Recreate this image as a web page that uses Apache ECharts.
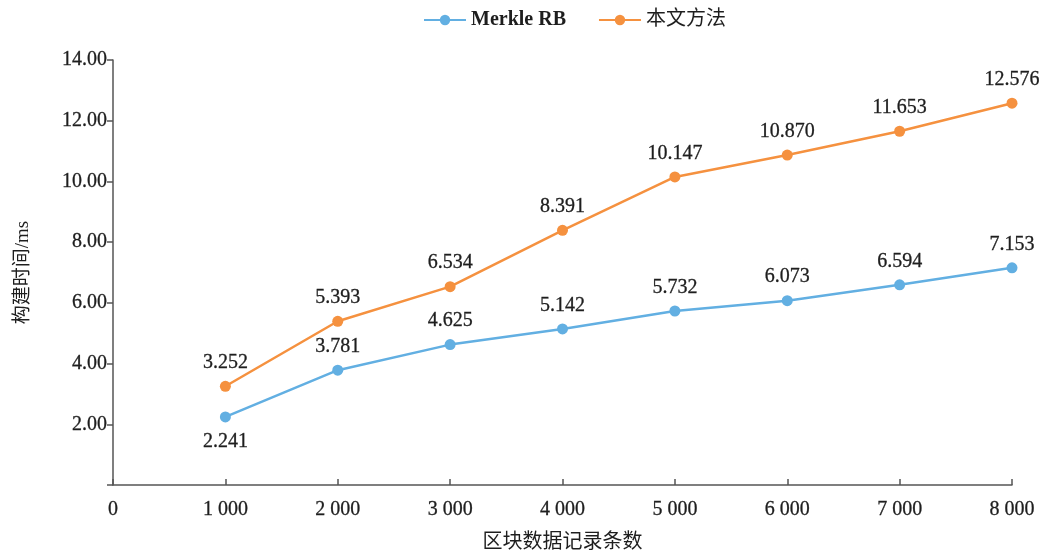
<!DOCTYPE html>
<html>
<head>
<meta charset="utf-8">
<script src="https://cdn.jsdelivr.net/npm/echarts@6/dist/echarts.min.js"></script>
<style>
  html, body { margin: 0; padding: 0; background: #fff; }
  #chart { width: 1039px; height: 558px; }
</style>
</head>
<body>
<div id="chart"></div>
<script>
// Record counts on the x axis
const recordCounts = [1000, 2000, 3000, 4000, 5000, 6000, 7000, 8000];
// Build time (ms) per method
const merkleRB = [2.241, 3.781, 4.625, 5.142, 5.732, 6.073, 6.594, 7.153];
const ourMethod = [3.252, 5.393, 6.534, 8.391, 10.147, 10.870, 11.653, 12.576];
const seriesNames = ['Merkle RB', '本文方法'];

const serif = '"Liberation Serif", "Times New Roman", "Noto Sans CJK SC", serif';
const textColor = '#1e1e1e';
const axisColor = '#555';
const blue = '#62afe2';
const orange = '#f5913f';

function pairs(vals) {
  return recordCounts.map((x, i) => [x, vals[i]]);
}

function valueLabel(extra) {
  return Object.assign({
    show: true,
    position: 'top',
    distance: 8,
    fontFamily: serif,
    fontSize: 20,
    color: textColor,
    textBorderColor: textColor,
    textBorderWidth: 0.3,
    formatter: p => p.value[1].toFixed(3)
  }, extra || {});
}

// first Merkle RB label sits below its point
const merkleData = pairs(merkleRB).map((d, i) => i === 0
  ? { value: d, label: { position: 'bottom', distance: 9 } }
  : d);

const chart = echarts.init(document.getElementById('chart'));
chart.setOption({
  animation: false,
  backgroundColor: '#fff',
  legend: {
    top: 5,
    left: 418,
    itemWidth: 42,
    itemHeight: 13,
    itemGap: 32,
    textStyle: {
      fontFamily: serif, fontSize: 20, color: textColor,
      rich: {
        b: { fontFamily: serif, fontSize: 20, fontWeight: 'bold', color: textColor },
        n: { fontFamily: serif, fontSize: 20, color: textColor }
      }
    },
    formatter: name => /^[A-Za-z]/.test(name) ? '{b|' + name + '}' : '{n|' + name + '}',
    data: seriesNames
  },
  grid: { left: 113, right: 27, top: 60, bottom: 73, outerBoundsMode: 'none', containLabel: false },
  xAxis: {
    type: 'value',
    min: 0,
    max: 8000,
    interval: 1000,
    name: '区块数据记录条数',
    nameLocation: 'middle',
    nameGap: 48,
    nameTextStyle: { fontFamily: serif, fontSize: 20, color: textColor },
    axisLine: { show: true, lineStyle: { color: axisColor, width: 1.5 } },
    axisTick: { show: true, inside: true, length: 6, lineStyle: { color: axisColor, width: 1.5 } },
    splitLine: { show: false },
    axisLabel: {
      fontFamily: serif, fontSize: 20, color: textColor, margin: 15,
      textBorderColor: textColor, textBorderWidth: 0.3,
      formatter: v => v === 0 ? '0' : String(v).replace(/\B(?=(\d{3})+(?!\d))/g, ' ')
    }
  },
  yAxis: {
    type: 'value',
    min: 0,
    max: 14,
    interval: 2,
    name: '构建时间/ms',
    nameLocation: 'middle',
    nameRotate: 90,
    nameGap: 80,
    nameTextStyle: { fontFamily: serif, fontSize: 19, color: textColor },
    axisLine: { show: true, lineStyle: { color: axisColor, width: 1.5 } },
    axisTick: { show: true, inside: false, length: 6, lineStyle: { color: axisColor, width: 1.5 } },
    splitLine: { show: false },
    axisLabel: {
      fontFamily: serif, fontSize: 20, color: textColor, margin: 6,
      textBorderColor: textColor, textBorderWidth: 0.3,
      formatter: v => v === 0 ? '' : v.toFixed(2)
    }
  },
  series: [
    {
      name: seriesNames[0],
      type: 'line',
      data: merkleData,
      symbol: 'circle',
      symbolSize: 11,
      itemStyle: { color: blue },
      lineStyle: { width: 2.5, color: blue },
      label: valueLabel(),
      emphasis: { disabled: true }
    },
    {
      name: seriesNames[1],
      type: 'line',
      data: pairs(ourMethod),
      symbol: 'circle',
      symbolSize: 11,
      itemStyle: { color: orange },
      lineStyle: { width: 2.5, color: orange },
      label: valueLabel(),
      emphasis: { disabled: true }
    }
  ]
});
</script>
</body>
</html>
